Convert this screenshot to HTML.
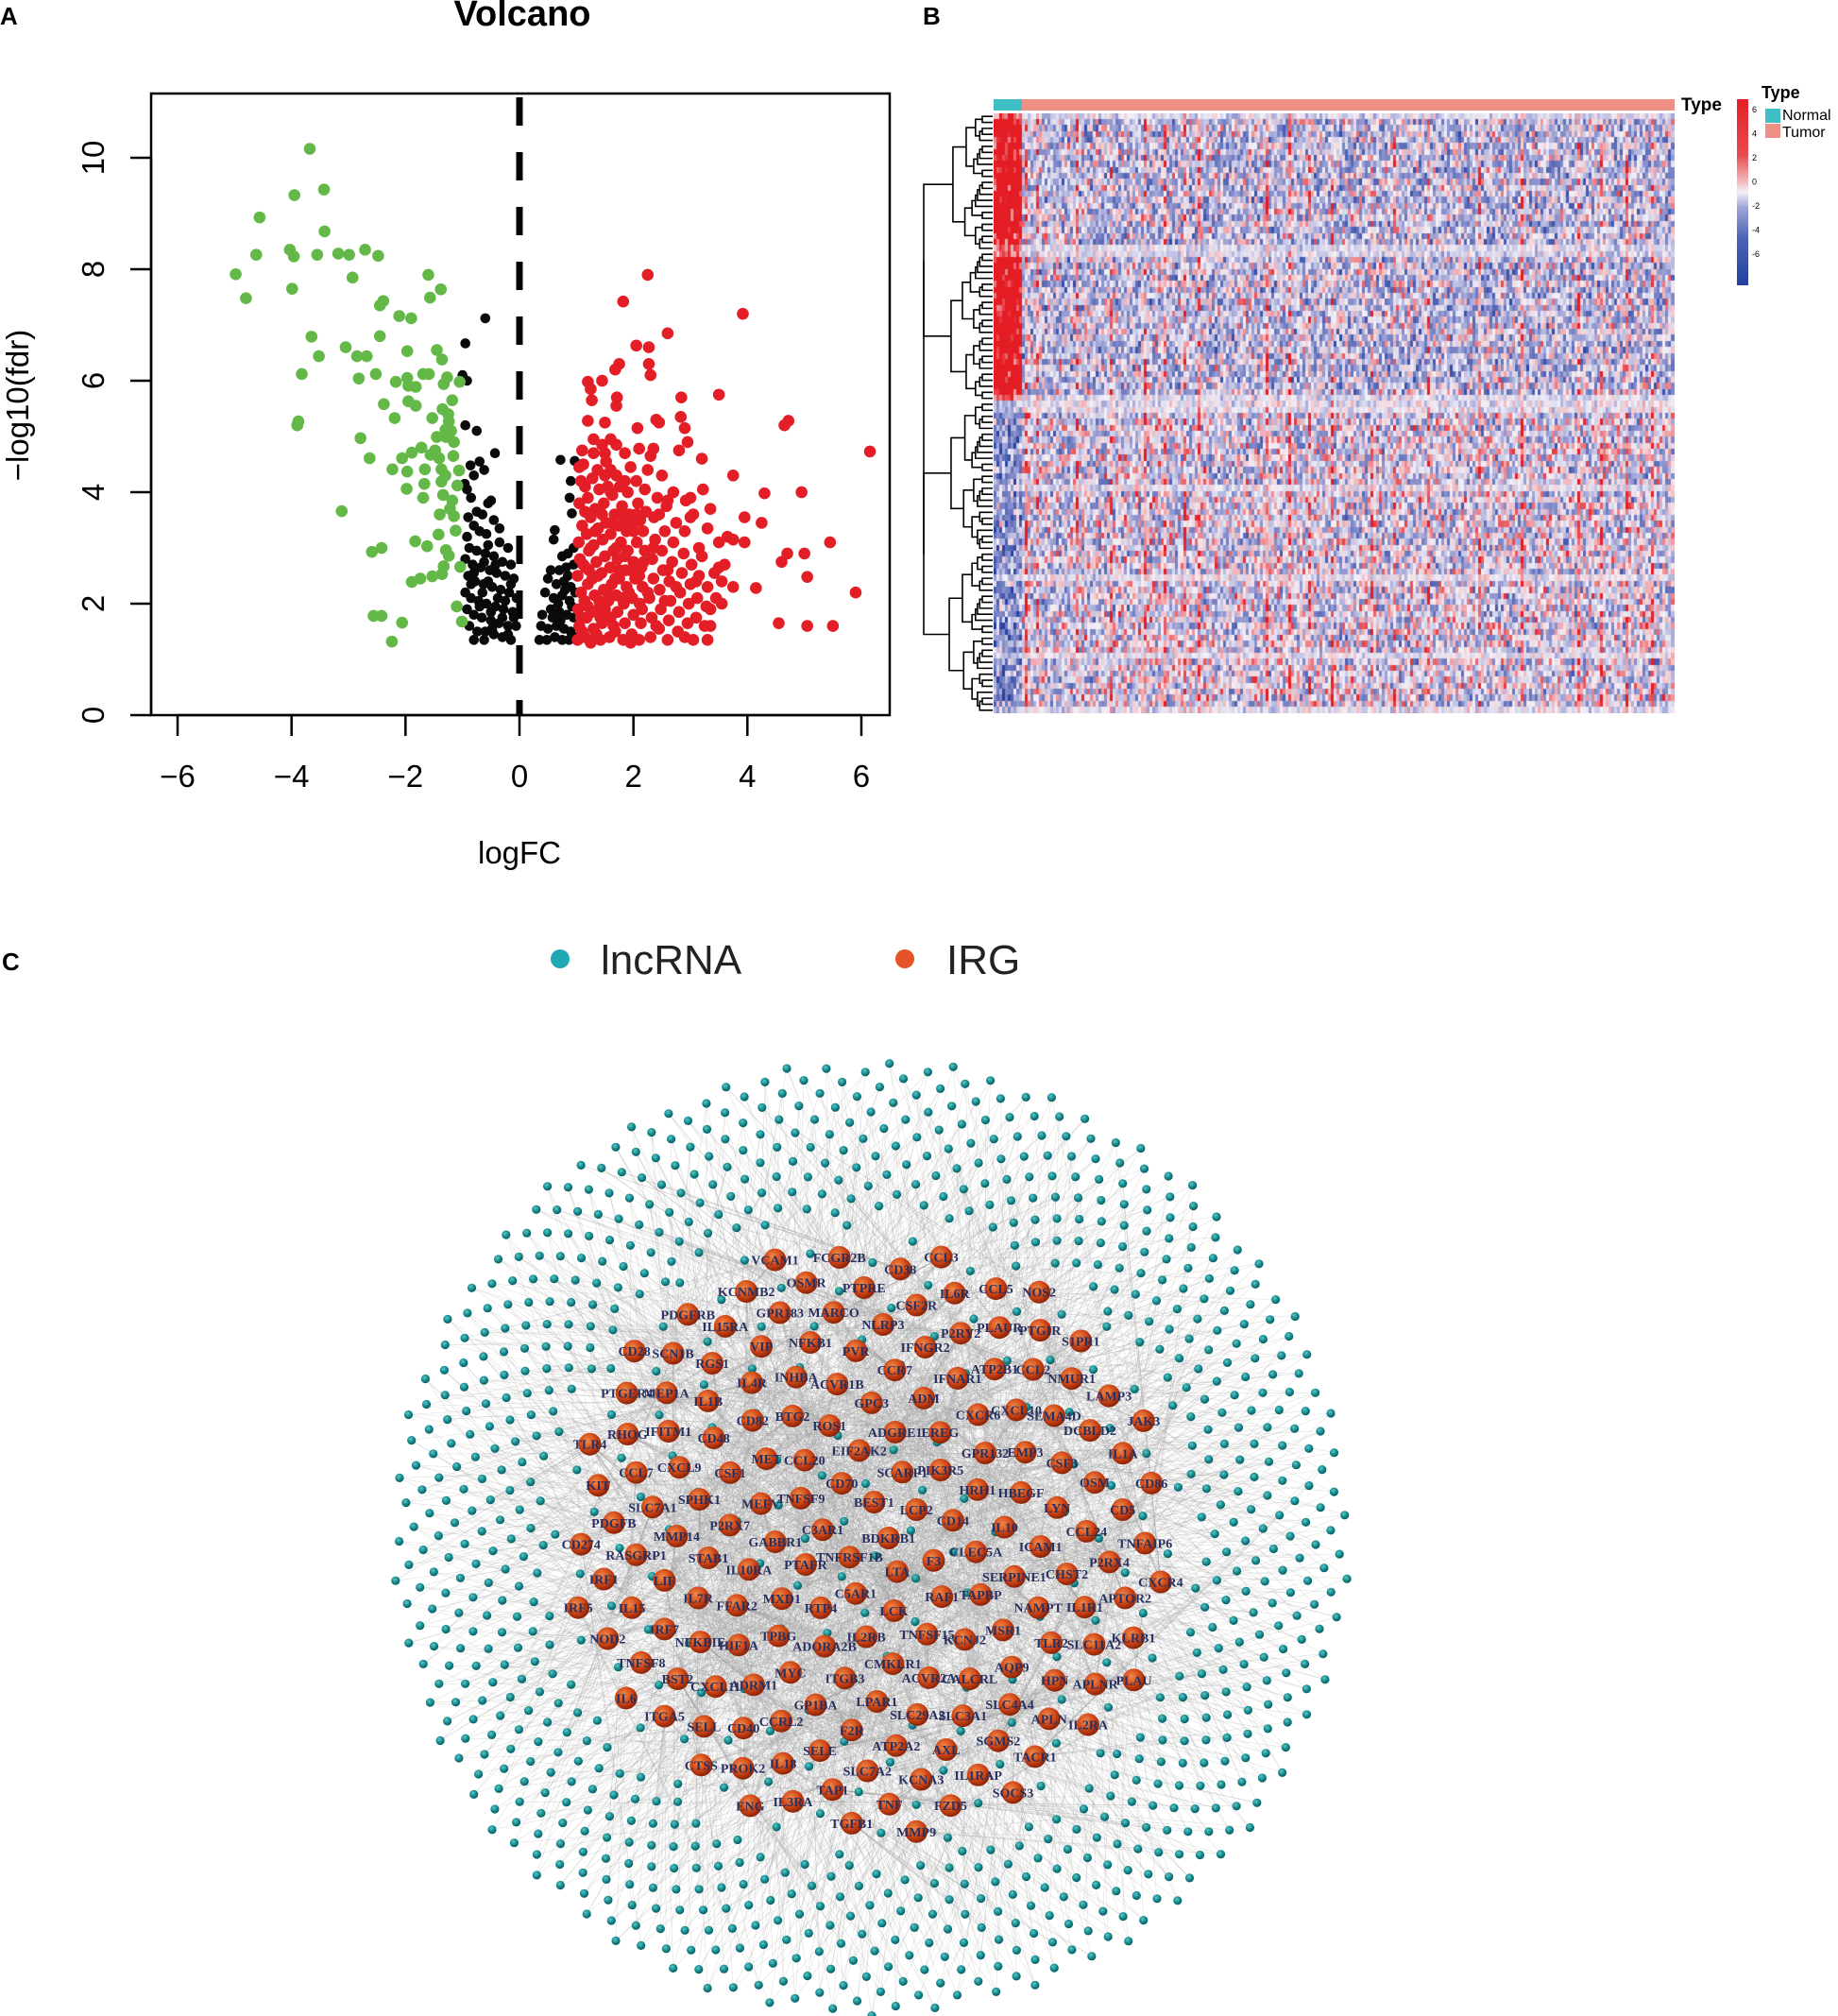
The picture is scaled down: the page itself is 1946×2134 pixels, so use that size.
<!DOCTYPE html>
<html><head><meta charset="utf-8"><style>
html,body{margin:0;padding:0;background:#fff;width:1946px;height:2134px;overflow:hidden;position:relative;font-family:"Liberation Sans",sans-serif}
.pl{position:absolute;font-weight:bold;font-size:26px;color:#000}
</style></head><body>
<div class="pl" style="left:0;top:2px">A</div>
<div class="pl" style="left:977px;top:2px">B</div>
<div class="pl" style="left:2px;top:1003px">C</div>

<svg id="volcano" width="960" height="960" style="position:absolute;left:0;top:0"></svg>
<canvas id="heat" width="721" height="635" style="position:absolute;left:1052px;top:120px"></canvas>
<svg id="heatsvg" width="986" height="780" style="position:absolute;left:960px;top:0"></svg>
<svg id="net" width="1946" height="1134" style="position:absolute;left:0;top:1000px"></svg>

<script>
// ---------------- Volcano data ----------------
const greenPts=[[-3.68,10.16],[-3.95,9.33],[-3.43,9.43],[-4.56,8.93],[-3.42,8.68],[-4.62,8.26],[-4.03,8.35],[-3.96,8.23],[-3.55,8.26],[-3.18,8.28],[-2.99,8.26],[-2.71,8.35],[-2.48,8.24],[-4.98,7.91],[-4.8,7.48],[-3.99,7.65],[-2.93,7.85],[-1.6,7.9],[-1.38,7.64],[-1.57,7.49],[-2.39,7.43],[-2.45,7.35],[-2.11,7.16],[-1.9,7.12],[-3.65,6.79],[-3.52,6.44],[-3.05,6.6],[-2.85,6.44],[-2.68,6.44],[-2.45,6.8],[-1.97,6.53],[-1.45,6.55],[-1.36,6.38],[-3.82,6.12],[-2.82,6.04],[-2.52,6.12],[-2.17,5.98],[-1.95,5.91],[-1.97,6.05],[-1.69,6.12],[-1.59,6.12],[-1.27,6.06],[-1.05,5.98],[-1.82,5.89],[-1.33,5.94],[-2.38,5.58],[-1.95,5.63],[-1.82,5.55],[-1.18,5.65],[-1.35,5.49],[-3.88,5.27],[-3.9,5.2],[-2.19,5.33],[-1.53,5.33],[-1.24,5.27],[-1.3,5.12],[-2.79,4.97],[-1.45,4.99],[-1.29,4.99],[-1.72,4.8],[-1.89,4.71],[-2.06,4.61],[-2.63,4.61],[-1.56,4.67],[-1.41,4.61],[-1.16,4.65],[-2.23,4.41],[-1.97,4.37],[-1.66,4.41],[-1.37,4.41],[-1.06,4.39],[-1.98,4.06],[-1.67,4.15],[-1.37,4.19],[-1.09,4.12],[-1.69,3.9],[-1.34,3.95],[-1.18,3.85],[-3.12,3.66],[-1.4,3.6],[-1.15,3.57],[-1.42,3.24],[-1.12,3.31],[-1.83,3.12],[-1.62,3.03],[-2.42,3.0],[-2.59,2.93],[-1.29,2.96],[-1.24,2.86],[-1.33,2.67],[-1.04,2.66],[-1.53,2.49],[-1.74,2.45],[-1.89,2.39],[-1.36,2.53],[-1.1,1.95],[-2.56,1.78],[-2.42,1.78],[-2.06,1.66],[-1.01,1.68],[-2.24,1.32],[-1.25,5.4],[-1.2,5.1],[-1.15,4.9],[-1.3,4.3],[-1.22,3.7],[-1.48,4.75]];
const blackPts=[[-0.95,6.67],[-0.6,7.12],[-1.0,6.1],[-0.92,6.0],[-0.95,5.2],[-0.75,5.1],[-0.43,4.7],[-0.7,4.55],[-0.62,4.4],[-0.86,4.48],[-0.96,4.15],[-0.92,4.05],[-0.8,4.3],[-0.5,3.85],[-0.55,3.8],[-0.85,3.9],[-0.75,3.65],[-0.65,3.6],[-0.9,3.55],[-0.45,3.5],[-0.8,3.4],[-0.7,3.3],[-0.58,3.25],[-0.92,3.2],[-0.35,3.1],[-0.2,3.0],[-0.88,3.0],[-0.75,2.95],[-0.6,2.9],[-0.45,2.85],[-0.3,2.75],[-0.15,2.7],[-0.95,2.8],[-0.82,2.7],[-0.68,2.65],[-0.52,2.6],[-0.4,2.55],[-0.25,2.5],[-0.1,2.45],[-0.9,2.5],[-0.78,2.4],[-0.63,2.35],[-0.48,2.3],[-0.33,2.25],[-0.18,2.2],[-0.05,2.1],[-0.95,2.2],[-0.85,2.1],[-0.72,2.05],[-0.58,2.0],[-0.42,1.95],[-0.28,1.9],[-0.12,1.85],[-0.92,1.9],[-0.8,1.8],[-0.66,1.75],[-0.5,1.7],[-0.36,1.65],[-0.2,1.6],[-0.06,1.6],[-0.88,1.6],[-0.74,1.5],[-0.6,1.5],[-0.45,1.45],[-0.3,1.4],[-0.15,1.35],[-0.8,1.35],[-0.62,1.35],[-0.48,1.55],[-0.38,2.1],[-0.55,2.4],[-0.25,2.05],[-0.65,2.2],[-0.3,1.75],[-0.15,2.35],[-0.7,1.95],[-0.42,2.7],[-0.8,2.55],[-0.55,3.05],[-0.35,3.35],[-0.62,2.75],[-0.1,1.75],[-0.2,1.45],[-0.5,1.85],[-0.85,2.35],
[0.72,4.58],[0.97,4.56],[0.9,4.2],[0.88,3.9],[0.92,3.62],[0.62,3.32],[0.6,3.15],[0.75,2.85],[0.85,2.9],[0.95,3.0],[0.55,2.6],[0.7,2.6],[0.82,2.65],[0.95,2.7],[0.5,2.45],[0.65,2.35],[0.78,2.4],[0.9,2.3],[0.45,2.2],[0.6,2.1],[0.75,2.15],[0.88,2.05],[0.98,2.2],[0.4,1.8],[0.55,1.9],[0.7,1.85],[0.83,1.8],[0.95,1.75],[0.38,1.6],[0.5,1.55],[0.65,1.6],[0.78,1.55],[0.9,1.5],[0.35,1.35],[0.48,1.35],[0.62,1.4],[0.75,1.35],[0.87,1.35],[0.97,1.4],[0.68,2.0],[0.8,2.25],[0.58,1.75],[0.92,1.95],[0.85,2.5],[0.72,1.7]];
const redPts=[[2.25,7.9],[1.82,7.42],[3.92,7.2],[2.6,6.85],[2.05,6.63],[2.27,6.6],[1.75,6.3],[1.68,6.2],[2.27,6.3],[2.3,6.1],[1.2,5.98],[1.45,6.0],[1.25,5.85],[2.84,5.7],[3.5,5.75],[1.71,5.7],[1.7,5.55],[1.27,5.65],[4.65,5.2],[4.72,5.28],[2.4,5.3],[2.45,5.25],[1.2,5.28],[1.5,5.25],[2.07,5.15],[2.83,5.35],[2.9,5.15],[6.15,4.73],[1.6,4.95],[1.3,4.95],[2.95,4.9],[1.7,4.85],[2.8,4.75],[2.35,4.78],[2.1,4.78],[1.85,4.7],[3.2,4.6],[1.1,4.75],[1.5,4.7],[3.75,4.3],[4.95,4.0],[4.3,3.98],[3.22,4.05],[2.6,3.85],[3.0,3.9],[3.95,3.55],[4.25,3.45],[3.35,3.7],[3.05,3.6],[3.65,3.2],[3.75,3.15],[3.3,3.35],[3.5,3.1],[5.45,3.1],[3.95,3.1],[4.7,2.9],[5.0,2.9],[4.6,2.75],[5.05,2.48],[4.15,2.28],[5.9,2.2],[3.75,2.3],[3.55,2.0],[4.55,1.65],[5.05,1.6],[5.5,1.6],[3.35,1.6],[3.3,1.35],
[1.02,1.35],[1.05,1.6],[1.03,1.9],[1.08,2.2],[1.02,2.5],[1.06,2.8],[1.04,3.1],[1.1,3.4],[1.05,3.8],[1.08,4.2],[1.12,4.5],[1.15,1.4],[1.18,1.75],[1.14,2.05],[1.2,2.35],[1.16,2.65],[1.22,2.95],[1.18,3.25],[1.25,3.55],[1.2,3.9],[1.28,4.25],[1.25,1.3],[1.3,1.55],[1.27,1.85],[1.32,2.15],[1.28,2.45],[1.35,2.75],[1.3,3.05],[1.38,3.35],[1.33,3.7],[1.4,4.05],[1.37,4.4],
[1.42,1.35],[1.45,1.65],[1.41,1.95],[1.48,2.25],[1.44,2.55],[1.5,2.85],[1.46,3.15],[1.52,3.45],[1.48,3.8],[1.55,4.1],[1.52,4.55],[1.58,1.4],[1.6,1.75],[1.56,2.05],[1.62,2.35],[1.59,2.65],[1.65,2.95],[1.6,3.25],[1.67,3.6],[1.63,3.95],[1.7,4.3],[1.68,1.5],[1.72,1.85],[1.7,2.15],[1.75,2.45],[1.72,2.8],[1.78,3.1],[1.74,3.4],[1.8,3.75],[1.76,4.1],
[1.82,1.35],[1.85,1.65],[1.83,2.0],[1.88,2.3],[1.86,2.6],[1.9,2.95],[1.88,3.3],[1.93,3.6],[1.9,4.0],[1.95,4.45],[1.97,1.45],[2.0,1.8],[1.98,2.1],[2.03,2.45],[2.0,2.75],[2.06,3.1],[2.02,3.45],[2.08,3.8],[2.05,4.2],[2.1,1.35],[2.13,1.65],[2.11,2.0],[2.16,2.3],[2.14,2.65],[2.2,2.95],[2.17,3.3],[2.22,3.65],[2.2,4.05],[2.25,4.4],
[2.3,1.4],[2.32,1.75],[2.28,2.1],[2.35,2.45],[2.33,2.8],[2.38,3.15],[2.36,3.55],[2.42,3.9],[2.45,1.55],[2.48,1.9],[2.46,2.25],[2.52,2.6],[2.5,2.95],[2.55,3.3],[2.58,3.75],[2.6,1.35],[2.62,1.7],[2.65,2.05],[2.63,2.4],[2.68,2.75],[2.7,3.1],[2.75,3.45],[2.78,1.5],[2.8,1.85],[2.82,2.2],[2.85,2.55],[2.88,2.9],[2.9,3.3],[2.95,1.65],[2.97,2.0],[3.0,2.35],[3.02,2.7],[3.05,1.35],[3.1,1.75],[3.12,2.1],[3.15,2.5],[3.2,2.85],[3.25,1.6],[3.28,1.95],[3.3,2.3],[3.45,2.1],[3.42,2.55],[3.55,2.4],[3.6,2.7],[3.15,3.0],[2.92,3.85],[2.7,4.0],[2.5,4.3],[2.3,4.65],[3.0,3.55],
[1.1,1.5],[1.2,1.95],[1.35,1.45],[1.5,1.9],[1.65,1.6],[1.8,2.1],[1.95,2.6],[2.1,2.5],[1.25,3.0],[1.45,3.6],[1.6,4.0],[1.12,2.7],[1.38,2.5],[1.55,2.2],[1.7,3.0],[1.9,3.5],[2.25,2.2],[2.4,1.6],[1.3,4.7],[1.45,4.85],[1.6,4.4],[1.85,4.2],[2.05,3.6],[1.15,3.65],[1.05,4.45],[1.95,1.3],[2.15,1.9],[1.4,2.05],[1.75,2.6],[2.55,2.05],[1.08,1.75],[1.22,2.6],[1.33,3.3],[1.5,4.3],[1.62,3.45],[1.78,3.6],[1.92,2.2],[2.0,3.3],[2.18,2.75],[2.35,3.0],[2.6,2.6],[2.75,2.3],[2.9,1.4],[3.1,2.4],[3.35,1.9],[3.5,2.65],[1.15,4.1],[1.42,1.75],[1.68,2.45],[1.85,2.85],[2.12,3.5],[2.45,3.6]];
const xTicks=[-6,-4,-2,0,2,4,6];
const yTicks=[0,2,4,6,8,10];

(function(){
const s=document.getElementById('volcano');const NS='http://www.w3.org/2000/svg';
const X=v=>550+v*60.33, Y=v=>757-v*59;
function mk(t,a,p){const e=document.createElementNS(NS,t);for(const k in a)e.setAttribute(k,a[k]);(p||s).appendChild(e);return e;}
let e=mk('text',{x:553,y:27,'text-anchor':'middle','font-size':38,'font-weight':'bold','font-family':'Liberation Sans'});e.textContent='Volcano';

e=mk('rect',{x:160,y:99,width:782,height:658,fill:'none',stroke:'#000','stroke-width':2.5});

const xa=mk('g',{});
mk('line',{x1:X(-6),x2:X(6),y1:757,y2:757,stroke:'#000','stroke-width':2.5},xa);
xTicks.forEach(t=>{mk('line',{x1:X(t),x2:X(t),y1:757,y2:779,stroke:'#000','stroke-width':2.5},xa);
 const l=mk('text',{x:X(t),y:833,'text-anchor':'middle','font-size':33,'font-family':'Liberation Sans'},xa);l.textContent=(t<0?'\u2212'+(-t):t);
 });
const ya=mk('g',{});
mk('line',{x1:160,x2:160,y1:Y(0),y2:Y(10),stroke:'#000','stroke-width':2.5},ya);
yTicks.forEach(t=>{mk('line',{x1:138,x2:160,y1:Y(t),y2:Y(t),stroke:'#000','stroke-width':2.5},ya);
 const l=mk('text',{x:0,y:0,'text-anchor':'middle','font-size':33,'font-family':'Liberation Sans',transform:`translate(110,${Y(t)}) rotate(-90)`},ya);l.textContent=t;
 });
e=mk('text',{x:0,y:0,'text-anchor':'middle','font-size':33,'font-family':'Liberation Sans',transform:'translate(30,429) rotate(-90)'});e.textContent='\u2212log10(fdr)';

e=mk('text',{x:550,y:914,'text-anchor':'middle','font-size':33,'font-family':'Liberation Sans'});e.textContent='logFC';

e=mk('line',{x1:X(0),x2:X(0),y1:103,y2:757,stroke:'#000','stroke-width':7,'stroke-dasharray':'30 28'});

const draw=(arr,col,r,name)=>{const g=mk('g',{});
 arr.forEach(p=>{const c=mk('circle',{cx:X(p[0]),cy:Y(p[1]),r:r,fill:col},g);
 });};
draw(blackPts,'#0a0a0a',5.3,'not-significant-points');
draw(greenPts,'#63b847',6.3,'down-regulated-points');
draw(redPts,'#e41e26',6.3,'up-regulated-points');
})();

// ---------------- Heatmap data ----------------
const nRows=100, nCols=240, nNormal=10, topClusterRows=48;
const clusterMeans={topNormal:4.2, topTumor:-0.8, botNormal:-2.0, botTumor:-0.35};
const streakCols=[4,11,15,29,41,53,60,67,72,96,104,111,119,133,141,153,171,186,206,214,223,232];
const lightRows=[0,22,23,47,48,49,62,77,90,99];
const legendTicks=[6,4,2,0,-2,-4,-6];

(function(){
const cv=document.getElementById('heat'),ctx=cv.getContext('2d');
const W=721,H=635,cw=W/nCols,rh=H/nRows;
function hsh(i,j,k){let h=(i*374761393+j*668265263+k*2147483647)|0;h=(h^(h>>>13))*1274126177|0;h=h^(h>>>16);return ((h>>>0)%10000)/10000;}
function col(v){
 const lerp=(a,b,t)=>a.map((x,i)=>Math.round(x+(b[i]-x)*t));
 const W0=[243,240,247],LB=[150,155,210],DB=[40,66,160],LR=[240,165,170],DR=[228,28,36];
 let c;
 if(v<0){const a=-v; c=a<1.5?lerp(W0,LB,a/1.5):lerp(LB,DB,Math.min(1,(a-1.5)/2.8));}
 else {c=v<1.2?lerp(W0,LR,v/1.2):lerp(LR,DR,Math.min(1,(v-1.2)/1.8));}
 return `rgb(${c[0]},${c[1]},${c[2]})`;}
for(let i=0;i<nRows;i++){
 const top=i<topClusterRows, light=lightRows.includes(i);
 for(let j=0;j<nCols;j++){
  const normal=j<nNormal;
  let base=normal?(top?clusterMeans.topNormal:clusterMeans.botNormal):(top?clusterMeans.topTumor:clusterMeans.botTumor);
  let v=base+(hsh(i,j,1)+hsh(i,j,2)-1)*3.4;
  if(streakCols.includes(j)&&!normal) v+=2.2*hsh(i,j,3)+0.8;
  if(light) v=v*0.45;
  ctx.fillStyle=col(v);
  ctx.fillRect(Math.floor(j*cw),Math.floor(i*rh),Math.ceil(cw)+1,Math.ceil(rh)+1);
 }}
const s=document.getElementById('heatsvg');const NS='http://www.w3.org/2000/svg';
function mk(t,a,p){const e=document.createElementNS(NS,t);for(const k in a)e.setAttribute(k,a[k]);(p||s).appendChild(e);return e;}
const ox=92, nw=W*nNormal/nCols;
let e=mk('rect',{x:ox,y:105,width:nw,height:12,fill:'#3fbec3'});

e=mk('rect',{x:ox+nw,y:105,width:W-nw,height:12,fill:'#f08f86'});

e=mk('text',{x:820,y:117,'font-size':19,'font-weight':'bold','font-family':'Liberation Sans'});e.textContent='Type';

const grad=mk('linearGradient',{id:'cb',x1:0,y1:0,x2:0,y2:1},mk('defs',{}));
[['0','#e41e26'],['0.3','#e84a50'],['0.45','#f3c0c3'],['0.5','#f3f0f7'],['0.58','#a0a6d8'],['0.75','#4a63b4'],['1','#2440a0']].forEach(p=>mk('stop',{offset:p[0],'stop-color':p[1]},grad));
e=mk('rect',{x:879,y:105,width:12,height:197,fill:'url(#cb)'});

legendTicks.forEach((t,k)=>{const l=mk('text',{x:895,y:119+k*25.5,'font-size':9,'font-family':'Liberation Sans'});l.textContent=t;
 });
e=mk('text',{x:905,y:104,'font-size':18,'font-weight':'bold','font-family':'Liberation Sans'});e.textContent='Type';

e=mk('rect',{x:909,y:115,width:16,height:15,fill:'#3fbec3'});
e=mk('rect',{x:909,y:131,width:16,height:15,fill:'#f08f86'});
e=mk('text',{x:927,y:127,'font-size':16,'font-family':'Liberation Sans'});e.textContent='Normal';
e=mk('text',{x:927,y:145,'font-size':16,'font-family':'Liberation Sans'});e.textContent='Tumor';
const dg=mk('g',{stroke:'#000','stroke-width':1.6,fill:'none'});
const right=ox-1,left=18;
function tree(a,b,depth){
 if(a===b) return [120+(a+0.5)*rh,right];
 let m=(a===0&&b===nRows-1)?topClusterRows-1:Math.floor((a+b)/2+((a*7+b*3)%3-1));
 if(m<a)m=a; if(m>=b)m=b-1;
 const L=tree(a,m,depth+1),R=tree(m+1,b,depth+1);
 const size=b-a+1;
 const x=Math.max(left,right-Math.pow(size,0.55)*7.5-(depth<2?10:0));
 mk('path',{d:`M${L[1]},${L[0]}H${x}V${R[0]}H${R[1]}`},dg);
 return [(L[0]+R[0])/2,x];}
tree(0,nRows-1,0);
})();

// ---------------- Network data ----------------
const irgNames=["BDKRB1","TNFRSF1B","BEST1","LTA","C3AR1","LCP2","C5AR1","CD70","F3","PTAFR","SCARF1","LCK","TNFSF9","CD14","RTP4","EIF2AK2","RAF1","GABBR1","PIK3R5","IL2RB","CCL20","CLEC5A","MXD1","ADGRE1","TNFSF15","MEFV","HRH1","ADORA2B","ROS1","TAPBP","IL10RA","EREG","CMKLR1","MET","IL10","TPBG","GPC3","KCNJ2","P2RX7","GPR132","ITGB3","BTG2","SERPINE1","FFAR2","ADM","ACVR2A","CSF1","HBEGF","MYC","ACVR1B","MSR1","STAB1","CXCR6","LPAR1","CD82","ICAM1","HIF1A","CCR7","CALCRL","SPHK1","EMP3","GP1BA","INHBA","NAMPT","IL7R","IFNAR1","SLC29A2","CD48","LYN","ADRM1","PVR","AQP9","MMP14","CXCL10","F2R","IL4R","CHST2","NFKBIE","IFNGR2","SLC3A1","CXCL9","CSF3","CCRL2","NFKB1","TLR2","LIF","ATP2B1","ATP2A2","IL1B","CCL24","CXCL11","NLRP3","SLC4A4","SLC7A1","SEMA4D","SELE","VIP","IL1R1","IRF7","P2RY2","AXL","IFITM1","OSM","CD40","MARCO","HPN","RASGRP1","CCL2","SLC7A2","RGS1","P2RX4","BST2","CSF2R","SGMS2","CCL7","DCBLD2","IL18","GPR183","SLC11A2","IL15","PLAUR","KCNA3","MEP1A","CD5","SELL","PTPRE","APLN","PDGFB","NMUR1","TAP1","IL15RA","APTOR2","TNFSF8","IL6R","IL1RAP","RHOG","IL1A","PROK2","OSMR","APLNR","IRF1","PTGIR","TNF","SCN1B","TNFAIP6","ITGA5","CD38","TACR1","KIT","LAMP3","IL3RA","KCNMB2","KLRB1","NOD2","CCL5","FZD5","PTGER4","CD86","CTSS","FCGR2B","IL2RA","CD274","S1PR1","TGFB1","PDGFRB","CXCR4","IL6","CCL3","SOCS3","TLR4","JAK3","ENG","VCAM1","PLAU","IRF5","NOS2","MMP9","CD28"];
const lncCount=960, edgesPerLnc=3, outerRadius=507, irgRadius=322, cx=922, cy=628;

(function(){
const s=document.getElementById('net');const NS='http://www.w3.org/2000/svg';
function mk(t,a,p){const e=document.createElementNS(NS,t);for(const k in a)e.setAttribute(k,a[k]);(p||s).appendChild(e);return e;}
const defs=mk('defs',{});
let g=mk('radialGradient',{id:'og',cx:'0.4',cy:'0.35',r:'0.65'},defs);
mk('stop',{offset:'0','stop-color':'#f28a4a'},g);mk('stop',{offset:'0.6','stop-color':'#cf4515'},g);mk('stop',{offset:'1','stop-color':'#8a2308'},g);
g=mk('radialGradient',{id:'tg',cx:'0.4',cy:'0.35',r:'0.65'},defs);
mk('stop',{offset:'0','stop-color':'#5cc6c6'},g);mk('stop',{offset:'0.6','stop-color':'#13878b'},g);mk('stop',{offset:'1','stop-color':'#0a5a60'},g);
let e=mk('circle',{cx:593,cy:15,r:10,fill:'#21a9b3'});
e=mk('text',{x:636,y:31,'font-size':44,'font-family':'Liberation Sans',fill:'#222'});e.textContent='lncRNA';
e=mk('circle',{cx:958,cy:15,r:10,fill:'#e5532a'});
e=mk('text',{x:1002,y:31,'font-size':44,'font-family':'Liberation Sans',fill:'#222'});e.textContent='IRG';
const GA=Math.PI*(3-Math.sqrt(5));
const irg=irgNames.map((n,k)=>{const r=irgRadius*Math.sqrt((k+0.6)/irgNames.length);const a=k*GA;return [cx+r*Math.cos(a),cy+r*Math.sin(a)*0.98];});
const inner=Math.round(lncCount*0.16);
const lnc=[];
for(let k=0;k<lncCount;k++){let r,a;
 if(k<inner){r=irgRadius*1.05*Math.sqrt((k+0.5)/inner);a=k*GA+1.3;}
 else{const t=(k-inner+0.5)/(lncCount-inner);r=Math.sqrt(345*345+(outerRadius*outerRadius-345*345)*t);a=k*GA;}
 lnc.push([cx+r*Math.cos(a),cy+r*Math.sin(a)]);}
const eg=mk('g',{stroke:'#9a9a9a','stroke-width':0.6,'stroke-opacity':0.3});
lnc.forEach((p,k)=>{for(let m=0;m<edgesPerLnc;m++){const q=irg[(k*37+m*61+m*k)%irg.length];
 mk('line',{x1:p[0].toFixed(1),y1:p[1].toFixed(1),x2:q[0].toFixed(1),y2:q[1].toFixed(1)},eg);}});
const tgp=mk('g',{});
lnc.forEach(p=>{const c=mk('circle',{cx:p[0].toFixed(1),cy:p[1].toFixed(1),r:4.6,fill:'url(#tg)'},tgp);
 });
const ogp=mk('g',{});
irg.forEach((p,k)=>{const c=mk('circle',{cx:p[0].toFixed(1),cy:p[1].toFixed(1),r:12,fill:'url(#og)'},ogp);
 
 const t=mk('text',{x:p[0].toFixed(1),y:(p[1]+5).toFixed(1),'text-anchor':'middle','font-size':14,'font-weight':'bold','font-family':'Liberation Serif',fill:'#28305f'},ogp);
 t.textContent=irgNames[k];
 });
})();
</script>
</body></html>
